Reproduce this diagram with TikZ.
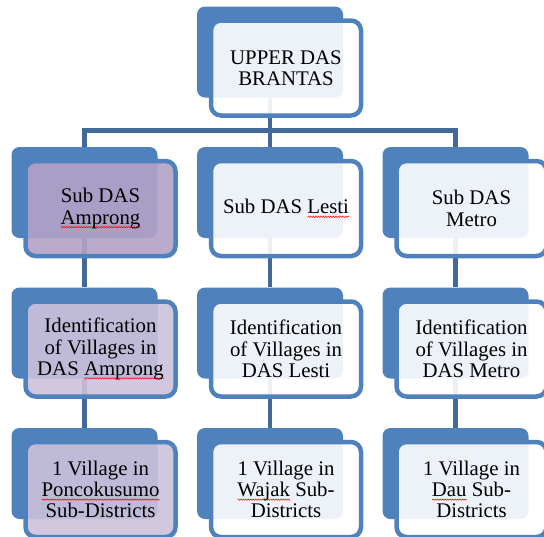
\documentclass[tikz,border=0pt]{standalone}
\usepackage{fontspec}
\setmainfont{Liberation Serif}
\newfontfamily\boxfont{Liberation Serif}
\usetikzlibrary{positioning,decorations.pathmorphing}
\definecolor{accentblue}{RGB}{79,129,189}
\definecolor{linkblue}{RGB}{65,105,154}
\definecolor{mauve}{RGB}{179,162,199}
\definecolor{lightmauve}{RGB}{204,193,218}
\newlength{\wordlen}
\newcommand{\spellerr}[1]{\settowidth{\wordlen}{#1}\rlap{\tikz[baseline=0pt, x=1pt, y=1pt]{\draw[red, sharp corners, line width=0.5pt, opacity=1, decorate, decoration={zigzag, segment length=2.5pt, amplitude=0.7pt}] (0, -3) -- (\wordlen, -3);}}#1}
\pgfdeclarelayer{background}
\pgfsetlayers{background,main}

\begin{document}
\begin{tikzpicture}[x=1pt, y=-1pt,
    backbox/.style={fill=accentblue, rounded corners=8pt, minimum width=146pt, minimum height=91pt, inner sep=0pt},
    frontbox/.style={draw=accentblue, line width=4.5pt, fill=white, fill opacity=0.9, text opacity=1,
                     rounded corners=10pt, minimum width=150pt, minimum height=95pt, inner sep=0pt,
                     align=center, font=\boxfont\fontsize{20.8}{21.3}\selectfont},
    link/.style={draw=linkblue, line width=4.5pt}]
      \useasboundingbox (0, 0) rectangle (544, 536);
      \node[backbox] (b0) at (270, 52) {};
      \node[backbox] (b21) at (84.5, 192.5) {};
      \node[backbox] (b22) at (270, 192.5) {};
      \node[backbox] (b23) at (455.5, 192.5) {};
      \node[backbox] (b31) at (84.5, 333) {};
      \node[backbox] (b32) at (270, 333) {};
      \node[backbox] (b33) at (455.5, 333) {};
      \node[backbox] (b41) at (84.5, 473.5) {};
      \node[backbox] (b42) at (270, 473.5) {};
      \node[backbox] (b43) at (455.5, 473.5) {};
      \node[frontbox] (f0) at ([xshift=16pt, yshift=-16pt]b0.center) {UPPER DAS\\BRANTAS};
      \node[frontbox, fill=mauve] (f21) at ([xshift=16pt, yshift=-16pt]b21.center) {Sub DAS\\\spellerr{Amprong}};
      \node[frontbox] (f22) at ([xshift=16pt, yshift=-16pt]b22.center) {Sub DAS \spellerr{Lesti}};
      \node[frontbox] (f23) at ([xshift=16pt, yshift=-16pt]b23.center) {Sub DAS\\Metro};
      \node[frontbox, fill=lightmauve] (f31) at ([xshift=16pt, yshift=-16pt]b31.center) {Identification\\of Villages in\\DAS \spellerr{Amprong}};
      \node[frontbox] (f32) at ([xshift=16pt, yshift=-16pt]b32.center) {Identification\\of Villages in\\DAS Lesti};
      \node[frontbox] (f33) at ([xshift=16pt, yshift=-16pt]b33.center) {Identification\\of Villages in\\DAS Metro};
      \node[frontbox, fill=lightmauve] (f41) at ([xshift=16pt, yshift=-16pt]b41.center) {1 Village in\\\spellerr{Poncokusumo}\\Sub-Districts};
      \node[frontbox] (f42) at ([xshift=16pt, yshift=-16pt]b42.center) {1 Village in\\\spellerr{Wajak} Sub-\\Districts};
      \node[frontbox] (f43) at ([xshift=16pt, yshift=-16pt]b43.center) {1 Village in\\\spellerr{Dau} Sub-\\Districts};
      \coordinate (bar) at (270, 130.5);
      \begin{pgfonlayer}{background}
        \draw[link] (b0.south) -- (b22.north);
        \draw[link] (b21.north) |- (bar) -| (b23.north);
        \draw[link] (b21.south) -- (b31.north);
        \draw[link] (b22.south) -- (b32.north);
        \draw[link] (b23.south) -- (b33.north);
        \draw[link] (b31.south) -- (b41.north);
        \draw[link] (b32.south) -- (b42.north);
        \draw[link] (b33.south) -- (b43.north);
      \end{pgfonlayer}
\end{tikzpicture}
\end{document}
